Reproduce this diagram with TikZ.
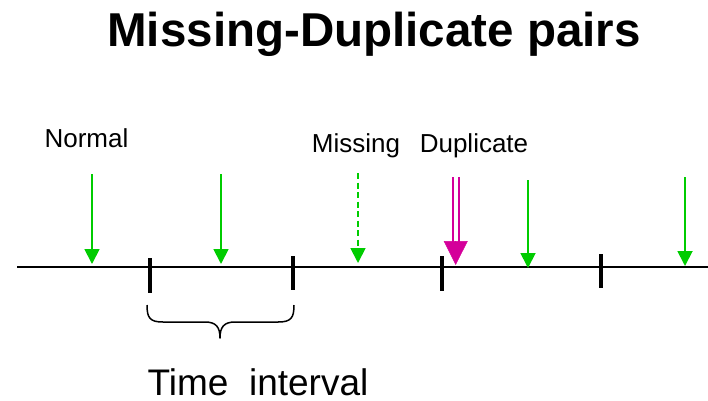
\documentclass[tikz,border=0pt]{standalone}
\usepackage{fontspec}
\setmainfont{Liberation Sans}
\usetikzlibrary{arrows.meta}
\definecolor{arrowgreen}{HTML}{00CC00}
\definecolor{dupmagenta}{HTML}{D4009A}

\begin{document}
\begin{tikzpicture}[
  x=1pt,
  y=-1pt,
  line join=round,
  timeline/.style={draw=black,line width=1.8pt},
  tickmark/.style={draw=black,line width=3.5pt},
  bracepath/.style={draw=black,line width=1.5pt},
  normalarrow/.style={draw=arrowgreen,line width=1.8pt,-{Triangle[length=15pt,width=15pt]}},
  missarrow/.style={normalarrow,dash pattern=on 6pt off 3.5pt},
  dupline/.style={draw=dupmagenta,line width=2pt},
  duptip/.style={draw=dupmagenta,fill=dupmagenta,line width=0.5pt,-{Triangle[length=24pt,width=24pt]}},
  label/.style={font=\fontsize{26}{30}\selectfont,anchor=base,inner sep=0pt}
]
  \useasboundingbox (0,0) rectangle (708,400);

  % Title and labels.
  \node[anchor=base,inner sep=0pt,font=\fontsize{47.5}{54}\selectfont\bfseries] (title) at (374,46) {Missing-Duplicate pairs};
  \node[label] (normal) at (86.5,147) {Normal};
  \node[label] (missing) at (356,152) {Missing};
  \node[label] (duplicate) at (474,152) {Duplicate};
  \node[anchor=base,inner sep=0pt,font=\fontsize{37}{44}\selectfont] (interval) at (258,395) {Time\ \ interval};

  % Time axis with interval boundaries.
  \coordinate (L) at (17,267);
  \coordinate (R) at (708,267);
  \draw[timeline] (L) -- (R);
  \foreach \x/\top/\bot in {150/258/293, 293/256/290, 442/256/291, 601/254/288} {
    \draw[tickmark] (\x,\top) -- (\x,\bot);
  }

  % Packet arrivals.
  \foreach \x/\top/\tip in {92/174/264, 221/174/264, 528/180/268, 685/177/266} {
    \coordinate (A) at (\x,\top);
    \coordinate (B) at (\x,\tip);
    \draw[normalarrow] (A) -- (B);
  }
  \coordinate (mA) at (358,173);
  \coordinate (mB) at (358,263);
  \draw[missarrow] (mA) -- (mB);

  % Duplicate: two shafts, one head.
  \coordinate (dL1) at (452.5,177);
  \coordinate (dL2) at (452.5,245);
  \coordinate (dR1) at (459,177);
  \coordinate (dR2) at (459,245);
  \draw[dupline] (dL1) -- (dL2);
  \draw[dupline] (dR1) -- (dR2);
  \coordinate (dA) at (455.7,241);
  \coordinate (dB) at (455.7,265);
  \draw[duptip] (dA) -- (dB);

  % Brace under the first interval.
  \draw[bracepath] (147,305) .. controls (147,318) and (150,322) .. (163,322)
    -- (205,322) .. controls (216,322) and (220,327) .. (220,338)
    .. controls (220,327) and (224,322) .. (235,322)
    -- (278,322) .. controls (291,322) and (294,318) .. (294,305);
\end{tikzpicture}
\end{document}
